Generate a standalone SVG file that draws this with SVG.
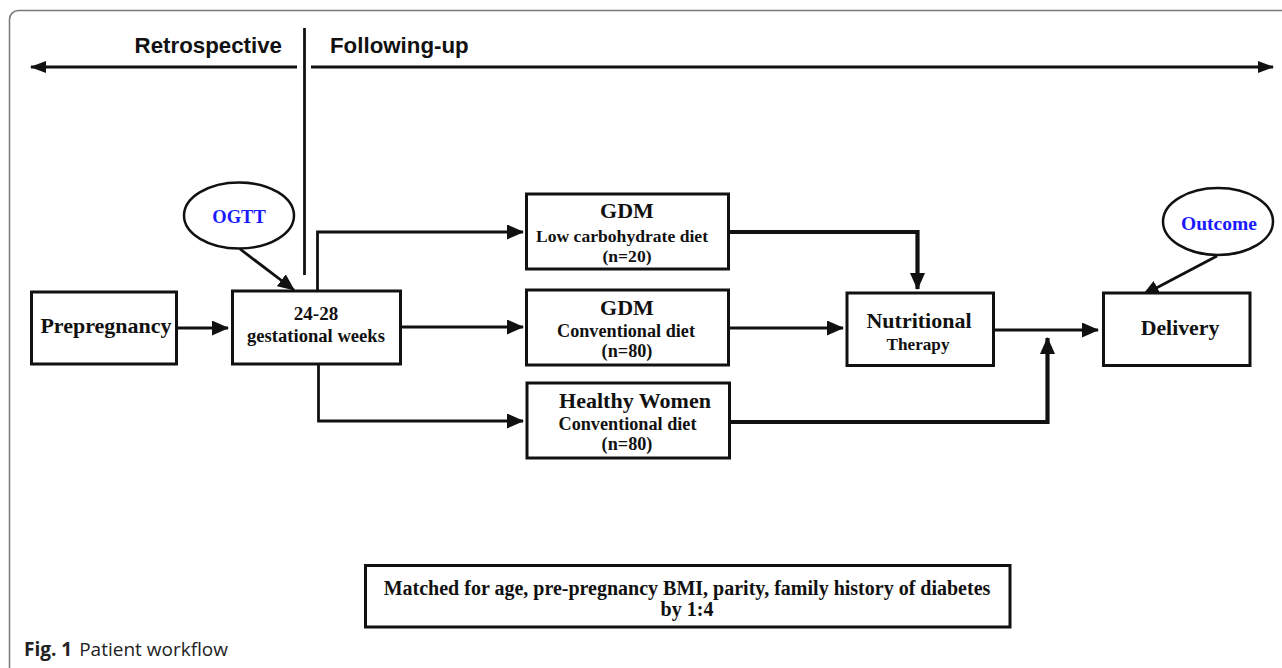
<svg xmlns="http://www.w3.org/2000/svg" width="1282" height="668" viewBox="0 0 1282 668">
<style>
.box{fill:#fff;stroke:#111;stroke-width:3}
.ell{fill:#fff;stroke:#111;stroke-width:2.5}
.t{font-family:"Liberation Serif","Times New Roman",serif;font-weight:bold;fill:#111;text-anchor:middle}
.blue{fill:#1a1aff}
.hdr{font-family:"Liberation Sans",Arial,sans-serif;font-weight:bold;font-size:22.3px;fill:#111}
.c{fill:none;stroke:#111;stroke-width:2.8}
.ck{fill:none;stroke:#111;stroke-width:4.2}
</style>
<defs>
<marker id="ah" markerUnits="userSpaceOnUse" markerWidth="17" markerHeight="15" refX="16" refY="7.5" orient="auto">
<path d="M0,0 L17,7.5 L0,15 z" fill="#111"/>
</marker>
<marker id="ahs" markerUnits="userSpaceOnUse" markerWidth="16" markerHeight="12" refX="15" refY="6" orient="auto">
<path d="M0,0 L16,6 L0,12 z" fill="#111"/>
</marker>
</defs>
<rect width="1282" height="668" fill="#fff"/>
<rect x="9.5" y="10.5" width="1320" height="700" rx="9" fill="none" stroke="#777" stroke-width="1.5"/>

<g id="header">
<text class="hdr" x="282" y="53" text-anchor="end">Retrospective</text>
<text class="hdr" x="330" y="53">Following-up</text>
</g>

<g id="connectors">
<line class="c" x1="297" y1="67" x2="31" y2="67" marker-end="url(#ahs)"/>
<line class="c" x1="311" y1="67" x2="1273" y2="67" marker-end="url(#ahs)"/>
<line class="c" x1="304.5" y1="28" x2="304.5" y2="275"/>
<line class="c" x1="240" y1="249" x2="294" y2="290" marker-end="url(#ah)"/>
<line class="c" x1="178" y1="328" x2="228" y2="328" marker-end="url(#ah)"/>
<polyline class="c" points="317.5,291 317.5,232 523,232" marker-end="url(#ah)"/>
<line class="c" x1="402" y1="327" x2="523" y2="327" marker-end="url(#ah)"/>
<polyline class="c" points="318.5,364 318.5,421 523,421" marker-end="url(#ah)"/>
<polyline class="ck" points="729,232 917.5,232 917.5,289" marker-end="url(#ah)"/>
<line class="c" x1="729" y1="328" x2="843" y2="328" marker-end="url(#ah)"/>
<line class="c" x1="995" y1="330" x2="1098" y2="330" marker-end="url(#ah)"/>
<polyline class="ck" points="730,422 1047.5,422 1047.5,338" marker-end="url(#ah)"/>
<line class="c" x1="1217" y1="256" x2="1143" y2="295" marker-end="url(#ah)"/>
</g>

<g id="ogtt">
<ellipse class="ell" cx="239" cy="215.5" rx="55" ry="33"/>
<text class="t blue" x="239" y="223" font-size="18.5">OGTT</text>
</g>

<g id="prepregnancy">
<rect class="box" x="31.5" y="292" width="145" height="72"/>
<text class="t" x="106" y="333" font-size="22">Prepregnancy</text>
</g>

<g id="gestational">
<rect class="box" x="232.5" y="291" width="168" height="73"/>
<text class="t" x="316" y="320" font-size="19">24-28</text>
<text class="t" x="316" y="342" font-size="18.6">gestational weeks</text>
</g>

<g id="gdm-low">
<rect class="box" x="526.5" y="194" width="202" height="75"/>
<text class="t" x="627" y="218" font-size="22">GDM</text>
<text class="t" x="622" y="242" font-size="17.6">Low carbohydrate diet</text>
<text class="t" x="627" y="262" font-size="17.6">(n=20)</text>
</g>

<g id="gdm-conv">
<rect class="box" x="526.5" y="290" width="202" height="75"/>
<text class="t" x="627" y="315" font-size="22">GDM</text>
<text class="t" x="626" y="337" font-size="18.2">Conventional diet</text>
<text class="t" x="627" y="357" font-size="18.2">(n=80)</text>
</g>

<g id="healthy">
<rect class="box" x="527" y="383" width="202.5" height="75"/>
<text class="t" x="635" y="408" font-size="22">Healthy Women</text>
<text class="t" x="627.5" y="430" font-size="18.2">Conventional diet</text>
<text class="t" x="627" y="450" font-size="18.2">(n=80)</text>
</g>

<g id="nutritional">
<rect class="box" x="847" y="293" width="146.5" height="72.5"/>
<text class="t" x="919" y="328" font-size="22">Nutritional</text>
<text class="t" x="918" y="350" font-size="17.2">Therapy</text>
</g>

<g id="delivery">
<rect class="box" x="1103.5" y="293" width="146.5" height="72.5"/>
<text class="t" x="1180" y="335" font-size="21.8">Delivery</text>
</g>

<g id="outcome">
<ellipse class="ell" cx="1218" cy="221.5" rx="55" ry="33.5"/>
<text class="t blue" x="1219" y="230" font-size="19.5">Outcome</text>
</g>

<g id="matched">
<rect class="box" x="365.5" y="565.5" width="644.5" height="61.5"/>
<text class="t" x="687" y="595" font-size="20">Matched for age, pre-pregnancy BMI, parity, family history of diabetes</text>
<text class="t" x="687" y="616" font-size="20">by 1:4</text>
</g>

<g id="caption">
<text x="24" y="656" font-family="'Open Sans','Noto Sans',sans-serif" font-size="19" fill="#222"><tspan font-weight="bold">Fig. 1</tspan><tspan dx="7">Patient workflow</tspan></text>
</g>
</svg>
